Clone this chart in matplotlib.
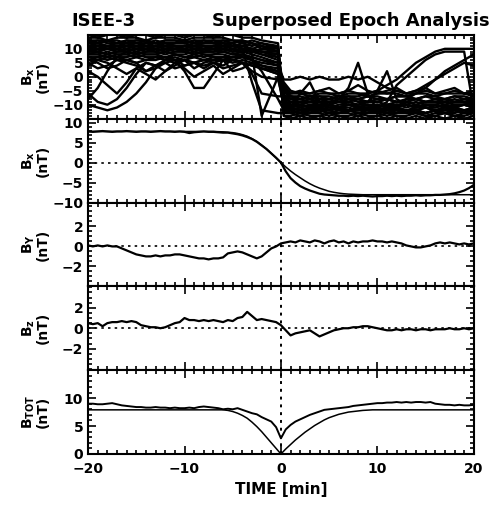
import numpy as np
import matplotlib
matplotlib.use("Agg")
import matplotlib.pyplot as plt
from matplotlib.ticker import MultipleLocator, FixedLocator

plt.rcParams['font.family'] = ['DejaVu Sans']
plt.rcParams['font.weight'] = 'bold'
plt.rcParams['axes.linewidth'] = 1.5

# --- individual events (panel 1), sampled on ev_time ---
ev_time = list(range(-20, -1)) + [-0.3, 0.3] + list(range(1, 21))

ev01 = [12,12,13,12,12,12,13,12,12,12,12,13,12,12,12,11,12,11,12,10, -9,-11,-12,-11,-12,-11,-12,-12,-11,-12,-12,-11,-12,-12,-12,-11,-12,-12,-11,-12,-12]
ev02 = [10,11,10,10,11,10,10,11,10,10,11,10,10,11,10,11,10,9,8,6, -6,-10,-10,-11,-10,-10,-11,-10,-10,-10,-11,-10,-10,-10,-11,-10,-10,-11,-10,-10,-10]
ev03 = [14,14,13,14,14,14,13,14,14,14,13,14,14,14,14,13,13,12,11,9, -5,-8,-9,-9,-8,-9,-9,-8,-9,-9,-9,-8,-9,-9,-8,-9,-9,-9,-8,-9,-9]
ev04 = [8,9,8,9,9,8,9,9,8,9,9,8,9,9,9,8,9,8,7,5, -4,-7,-8,-7,-8,-8,-7,-8,-8,-7,-8,-8,-7,-7,-8,-7,-8,-8,-7,-8,-8]
ev05 = [11,12,11,11,12,11,12,11,12,11,11,12,11,11,12,11,11,12,10,11, -13,-13,-14,-13,-13,-14,-13,-13,-14,-13,-13,-14,-13,-13,-13,-14,-13,-13,-14,-13,-13]
ev06 = [9,10,10,9,10,9,10,10,9,10,10,9,10,10,9,10,9,9,10,9, -12,-12,-13,-12,-12,-12,-13,-12,-12,-12,-13,-12,-12,-12,-12,-13,-12,-12,-12,-13,-12]
ev07 = [7,7,8,7,7,8,7,7,7,8,7,7,8,7,7,7,7,6,4,2, -3,-6,-6,-7,-6,-6,-7,-6,-6,-7,-6,-6,-6,-7,-6,-6,-7,-6,-6,-6,-7]
ev08 = [-8,-4,2,7,9,8,9,10,9,10,9,10,9,9,10,9,10,9,8,7, -10,-11,-10,-11,-11,-10,-11,-10,-11,-11,-10,-11,-10,-11,-10,-11,-11,-10,-11,-10,-11]
ev09 = [-10,-11,-12,-11,-9,-6,-2,3,6,8,7,8,7,8,8,7,8,6,2,-8, -12,-11,-12,-12,-11,-12,-11,-12,-12,-11,-12,-12,-11,-12,-12,-11,-12,-11,-12,-12,-11]
ev10 = [-6,-9,-10,-8,-4,1,5,4,6,5,6,3,5,6,6,5,6,5,4,3, -7,-9,-9,-8,-9,-9,-8,-9,-8,-9,-9,-8,-9,-9,-8,-9,-9,-8,-9,-9,-8]
ev11 = [6,5,3,4,6,5,2,3,5,6,4,5,6,5,4,6,5,4,3,1, -5,-7,-7,-8,-7,-7,-8,-7,-7,-6,-5,-3,-1,2,5,7,9,10,10,10,10]
ev12 = [5,3,4,6,5,4,2,4,5,3,4,5,4,5,3,4,5,4,3,2, -2,-5,-6,-6,-5,-6,-6,-5,-6,-6,-5,-6,-5,-6,-5,-3,-1,2,4,6,8]
ev13 = [12,12,11,12,12,11,12,12,11,12,12,11,12,12,11,12,10,-2,-12,-13, -13,-12,-13,-12,-13,-10,-8,-4,5,-6,-12,-13,-12,-13,-12,-13,-12,-13,-12,-13,-12]
ev14 = [13,13,13,12,13,13,13,12,13,13,13,12,13,13,13,12,13,8,-14,0, -11,-13,-12,-13,-12,-13,-12,-12,-13,-12,-13,-12,-13,-12,-12,-13,-12,-13,-12,-12,-13]
ev15 = [6,7,6,7,6,5,6,7,6,7,6,5,6,7,6,6,7,6,5,4, -1,-1,0,-1,0,-1,-1,0,-1,0,-2,-4,-5,-6,-6,-5,-6,-6,-5,-6,-6]
ev16 = [8,8,7,8,8,7,8,8,7,6,2,-4,-4,1,6,7,8,7,6,5, -8,-9,-10,-9,-9,-10,-9,-9,-10,-9,-9,-10,-9,-9,-10,-9,-9,-10,-9,-9,-10]
ev17 = [10,9,10,10,9,10,10,9,10,10,9,10,9,10,10,9,10,9,9,8, -9,-10,-10,-9,-10,-10,-9,-10,-10,-9,-5,2,-8,-10,-9,-10,-10,-9,-10,-10,-9]
ev18 = [11,11,10,11,11,10,11,11,10,11,11,10,11,11,10,11,11,10,9,8, -11,-11,-12,-11,-11,-12,-11,-11,-12,-11,-11,-12,-11,-8,-6,-4,-1,1,3,5,4]
ev19 = [13,12,13,13,12,13,13,12,13,13,12,13,13,12,13,13,12,13,12,11, -14,-14,-13,-14,-14,-13,-14,-14,-13,-14,-14,-13,-14,-14,-13,-14,-14,-13,-14,-14,-13]
ev20 = [4,6,5,3,1,3,5,4,2,4,6,5,3,5,6,2,3,5,3,1, -4,-6,-5,-6,-5,-4,-6,-5,-3,-5,-6,-5,-4,-6,-5,-4,-6,-5,-4,-6,-5]
ev21 = [9,9,10,9,9,10,9,9,10,9,9,10,9,9,10,9,9,10,9,9, -10,-12,-11,-12,-11,-12,-11,-12,-11,-12,-11,-9,-3,0,3,6,8,9,9,9,-12]
ev22 = [2,0,-3,-6,-2,3,1,-1,2,5,3,0,2,4,1,3,5,2,0,-1, -9,-10,-11,-10,-11,-10,-11,-10,-11,-10,-11,-10,-11,-10,-11,-10,-11,-10,-11,-10,-11]
ev23 = [12,13,12,12,13,12,12,13,12,12,13,12,12,13,12,12,13,12,11,10, -10,-10,-11,-10,-10,-11,-10,-10,-11,-10,-10,-11,-10,-10,-11,-10,-10,-11,-10,-10,-11]
ev24 = [10,11,11,10,11,11,10,11,11,10,11,11,10,11,11,10,11,10,11,9, -13,-12,-13,-13,-12,-13,-13,-12,-13,-13,-12,-13,-13,-12,-13,-13,-12,-13,-13,-12,-13]
ev25 = [8,8,9,8,8,9,8,8,9,8,8,9,8,8,9,8,8,7,6,4, -8,-11,-6,-2,-9,-11,-11,-12,-11,-11,-12,-11,-11,-12,-11,-11,-12,-11,-11,-12,-11]
ev26 = [15,14,15,15,14,15,15,14,15,15,14,15,15,14,15,15,14,14,13,12, -14,-15,-14,-15,-14,-15,-14,-15,-14,-15,-14,-15,-14,-15,-14,-15,-14,-15,-14,-15,-14]
ev27 = [6,6,7,6,6,7,6,6,7,6,6,7,6,6,7,6,5,1,-6,-7, -7,-7,-8,-7,-7,-8,-7,-7,-8,-7,-7,-8,-7,-7,-8,-7,-7,-8,-7,-7,-8]
ev28 = [11,10,11,11,10,11,11,10,11,11,10,11,11,10,11,11,10,10,9,7, -7,-8,-8,-9,-8,-8,-9,-8,-8,-9,-8,-8,-9,-8,-8,-9,-8,-8,-9,-8,-8]
events = [ev01, ev02, ev03, ev04, ev05, ev06, ev07, ev08, ev09, ev10, ev11, ev12, ev13, ev14,
          ev15, ev16, ev17, ev18, ev19, ev20, ev21, ev22, ev23, ev24, ev25, ev26, ev27, ev28]

# --- superposed averages, 0.5 min steps from -20 to 20 ---
t_avg = np.arange(-20, 20.5, 0.5)

bx_avg = [7.8,7.7,7.8,7.9,7.8,7.7,7.8,7.8,7.9,7.8,7.7,7.8,7.8,7.7,7.8,7.9,7.8,7.8,7.7,7.8,
          7.7,7.4,7.6,7.7,7.8,7.7,7.7,7.6,7.5,7.5,7.3,7.1,6.8,6.4,5.9,5.2,4.3,3.4,2.3,1.2,
          0.0,
          -2.2,-3.9,-5.0,-5.9,-6.5,-7.0,-7.4,-7.8,-8.0,-8.1,-8.2,-8.3,-8.3,-8.4,-8.3,-8.4,-8.3,-8.4,-8.5,-8.4,
          -8.4,-8.3,-8.4,-8.3,-8.4,-8.3,-8.3,-8.2,-8.3,-8.2,-8.2,-8.1,-8.1,-8.0,-7.9,-7.7,-7.4,-7.0,-6.4,-5.6]
bx_fit = [7.8]*27 + [7.75,7.7,7.6,7.5,7.3,7.0,6.6,6.0,5.3,4.4,3.4,2.3,1.2,
          0.0,
          -1.1,-2.1,-3.0,-3.8,-4.6,-5.3,-5.9,-6.4,-6.8,-7.2,-7.45,-7.65,-7.8,-7.9,-7.95,-8.0] + [-8.05]*24

by_avg = [0.1,0.0,0.1,0.0,0.1,0.0,0.0,-0.2,-0.4,-0.6,-0.8,-0.9,-1.0,-1.0,-0.9,-1.0,-0.9,-0.9,-0.8,-0.8,
          -0.9,-1.0,-1.1,-1.2,-1.2,-1.3,-1.2,-1.2,-1.1,-0.7,-0.6,-0.5,-0.6,-0.8,-1.0,-1.2,-1.0,-0.6,-0.2,0.0,
          0.3,
          0.4,0.5,0.4,0.6,0.5,0.4,0.6,0.5,0.3,0.5,0.6,0.4,0.5,0.3,0.5,0.4,0.5,0.5,0.6,0.5,
          0.5,0.4,0.5,0.4,0.3,0.1,0.0,-0.1,-0.1,0.0,0.1,0.3,0.4,0.3,0.4,0.3,0.2,0.3,0.2,0.3]

bz_avg = [0.5,0.4,0.5,0.2,0.5,0.6,0.6,0.7,0.6,0.7,0.6,0.3,0.2,0.1,0.1,0.0,0.1,0.3,0.5,0.6,
          1.0,0.8,0.8,0.7,0.8,0.7,0.8,0.7,0.6,0.8,0.7,1.0,1.1,1.6,1.2,0.8,0.9,0.8,0.7,0.6,
          0.3,
          -0.2,-0.7,-0.5,-0.4,-0.3,-0.2,-0.5,-0.8,-0.6,-0.4,-0.2,-0.1,0.0,0.0,0.1,0.1,0.2,0.2,0.1,0.0,
          -0.1,-0.2,-0.2,-0.1,-0.2,-0.1,-0.1,-0.2,-0.1,-0.1,-0.2,-0.1,-0.1,-0.1,0.0,-0.1,-0.1,0.0,-0.1,0.0]

bt_avg = [9.0,9.0,8.9,8.9,9.0,9.1,8.9,8.7,8.6,8.5,8.4,8.4,8.3,8.3,8.4,8.3,8.3,8.2,8.3,8.2,
          8.2,8.3,8.2,8.4,8.5,8.4,8.3,8.2,8.0,8.1,8.0,8.2,7.9,7.6,7.3,7.1,6.6,6.2,5.8,4.8,
          2.8,
          4.4,5.2,5.8,6.2,6.6,7.0,7.3,7.6,7.9,8.0,8.1,8.2,8.3,8.4,8.6,8.7,8.8,8.9,9.0,9.1,
          9.1,9.2,9.2,9.3,9.2,9.3,9.2,9.3,9.3,9.2,9.3,9.0,8.9,8.8,8.8,8.7,8.8,8.7,8.7,8.8]
bt_fit = [7.9]*29 + [7.8,7.6,7.3,6.9,6.4,5.7,4.9,4.0,3.0,2.0,1.0,
          0.0,
          0.9,1.7,2.5,3.2,3.9,4.5,5.1,5.6,6.1,6.5,6.8,7.1,7.3,7.5,7.6,7.7,7.8,7.85] + [7.9]*22

fig, axes = plt.subplots(5, 1, sharex=True, figsize=(4.92, 5.05), dpi=100)
fig.subplots_adjust(left=0.179, right=0.963, top=0.931, bottom=0.101, hspace=0)

dot = (0, (1.5, 2.5))

ax = axes[0]
for ev in events:
    ax.plot(ev_time, ev, color='black', lw=1.7)
ax.set_ylim(-15, 15)
ax.yaxis.set_major_locator(FixedLocator([-10, -5, 0, 5, 10]))
ax.yaxis.set_minor_locator(MultipleLocator(1))

ax = axes[1]
ax.plot(t_avg, bx_fit, color='black', lw=1.1)
ax.plot(t_avg, bx_avg, color='black', lw=1.6)
ax.set_ylim(-10, 11)
ax.yaxis.set_major_locator(FixedLocator([-10, -5, 0, 5, 10]))
ax.yaxis.set_minor_locator(MultipleLocator(1))

ax = axes[2]
ax.plot(t_avg, by_avg, color='black', lw=1.6)
ax.set_ylim(-4, 4.4)
ax.yaxis.set_major_locator(FixedLocator([-2, 0, 2]))
ax.yaxis.set_minor_locator(MultipleLocator(0.5))

ax = axes[3]
ax.plot(t_avg, bz_avg, color='black', lw=1.6)
ax.set_ylim(-4.1, 4.1)
ax.yaxis.set_major_locator(FixedLocator([-2, 0, 2]))
ax.yaxis.set_minor_locator(MultipleLocator(0.5))

ax = axes[4]
ax.plot(t_avg, bt_fit, color='black', lw=1.1)
ax.plot(t_avg, bt_avg, color='black', lw=1.4)
ax.set_ylim(0, 15)
ax.yaxis.set_major_locator(FixedLocator([0, 5, 10]))
ax.yaxis.set_minor_locator(MultipleLocator(1))

labels = [r"$\mathbf{B_x}$", r"$\mathbf{B_x}$", r"$\mathbf{B_Y}$", r"$\mathbf{B_z}$", r"$\mathbf{B_{TOT}}$"]
for i, ax in enumerate(axes):
    ax.axvline(0, color='black', lw=1.4, ls=dot)
    if i < 4:
        ax.axhline(0, color='black', lw=1.2, ls=dot)
    ax.set_xlim(-20, 20)
    ax.xaxis.set_major_locator(MultipleLocator(10))
    ax.xaxis.set_minor_locator(MultipleLocator(1))
    ax.tick_params(which='both', direction='in', top=True, right=True, width=1.2)
    ax.tick_params(which='major', length=6, labelsize=10)
    ax.tick_params(which='minor', length=3)
    ax.set_ylabel(labels[i] + "\n(nT)", fontsize=10, fontweight='bold', linespacing=0.9)
    ax.yaxis.set_label_coords(-0.10, 0.5)

axes[4].set_xlabel("TIME [min]", fontsize=11, fontweight='bold')
axes[4].tick_params(axis='x', pad=6)

fig.text(0.146, 0.948, "ISEE-3", fontsize=13, fontweight='bold', ha='left', va='baseline')
fig.text(0.996, 0.948, "Superposed Epoch Analysis", fontsize=13, fontweight='bold', ha='right', va='baseline')

fig.savefig("out.png", dpi=100)
